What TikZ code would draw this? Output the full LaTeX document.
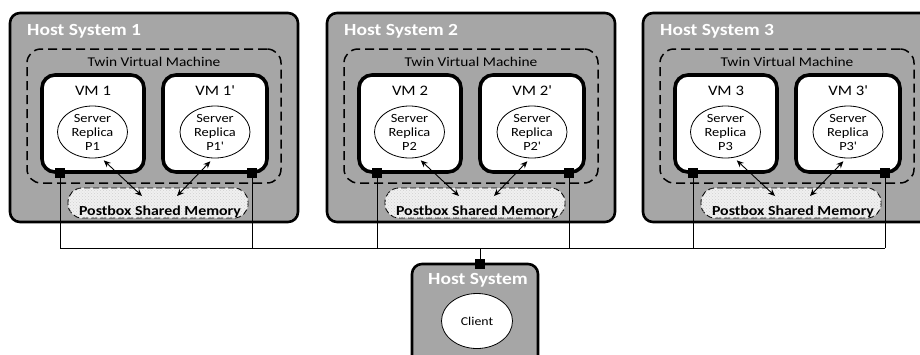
\documentclass[tikz,border=0pt]{standalone}
\usepackage{fontspec}
\setmainfont{Carlito}[FakeStretch=1.15]
\usetikzlibrary{arrows.meta,fit,patterns,shapes.geometric}

\definecolor{hostgray}{RGB}{166,166,166}

\begin{document}
\begin{tikzpicture}[x=1pt,y=-1pt,
  hostbox/.style={draw=black, line width=2.6pt, fill=hostgray, rounded corners=10pt, inner sep=0pt},
  twinbox/.style={draw=black, line width=1.5pt, dash pattern=on 9pt off 5pt, rounded corners=14pt, inner sep=0pt},
  vmbox/.style={draw=black, line width=3.6pt, fill=white, rounded corners=13pt, inner sep=0pt},
  pbox/.style={draw=black, line width=0.9pt, dash pattern=on 6pt off 3pt, rounded corners=14pt,
               fill=black!6, inner sep=0pt,
               postaction={pattern=crosshatch dots, pattern color=black!18}},
  replica/.style={ellipse, draw=black, line width=0.8pt, fill=white, minimum width=70pt,
                  minimum height=52pt, inner sep=0pt, align=center,
                  font=\fontsize{12.5}{14}\selectfont},
  client/.style={ellipse, draw=black, line width=0.8pt, fill=white, minimum width=71pt,
                 minimum height=55pt, inner sep=0pt, font=\fontsize{12}{14}\selectfont},
  port/.style={fill=black, minimum size=10pt, inner sep=0pt},
  hosttitle/.style={text=white, font=\fontsize{17}{20}\selectfont\bfseries, inner sep=0pt},
  twinlabel/.style={font=\fontsize{13.4}{16}\selectfont, inner sep=0pt},
  vmlabel/.style={font=\fontsize{14.5}{17}\selectfont, inner sep=0pt},
  pblabel/.style={font=\fontsize{13.8}{16}\selectfont\bfseries, inner sep=0pt},
  link/.style={draw=black, line width=0.9pt},
  biarrow/.style={line width=0.9pt, {Stealth[length=7pt,width=6pt]}-{Stealth[length=7pt,width=6pt]}},
]
\useasboundingbox (0,0) rectangle (920,354);
\clip (0,0) rectangle (920,354);

\coordinate (bus) at (0,248);

% three hosts, each running a twin virtual machine
\foreach \i/\ox in {1/0,2/317,3/633}{
  \begin{scope}[xshift=\ox pt]
    \node[hostbox, fit={(10,13) (298,222)}] (h\i) {};
    \node[hosttitle, anchor=base west] (ht\i) at (27,35) {Host System \i};
    \node[twinbox, fit={(27,49) (281,183)}] (tw\i) {};
    \node[twinlabel, anchor=base] (tl\i) at (154,66) {Twin Virtual Machine};
    \node[vmbox, fit={(42,75) (144,172)}] (va\i) {};
    \node[vmbox, fit={(163,75) (267,172)}] (vb\i) {};
    \node[vmlabel, anchor=base] (la\i) at (93,95) {VM \i};
    \node[vmlabel, anchor=base] (lb\i) at (215,95) {VM \i\textquotesingle};
    \node[replica] (ea\i) at (92.5,132) {Server\\Replica\\P\i};
    \node[replica] (eb\i) at (215,132) {Server\\Replica\\P\i\textquotesingle};
    \node[pbox, fit={(68,188) (248,218)}] (pb\i) {};
    \node[pblabel, anchor=base] (pt\i) at (160,215) {Postbox Shared Memory};
    \coordinate (pa\i) at (142,196);
    \coordinate (pc\i) at (177,196);
    \draw[biarrow, shorten <=4pt] (ea\i.-72) -- (pa\i);
    \draw[biarrow, shorten <=4pt] (eb\i.-94) -- (pc\i);
    \node[port] (sa\i) at (60,172.5) {};
    \node[port] (sb\i) at (252,172.5) {};
    \draw[link] (sa\i) -- (sa\i |- bus);
    \draw[link] (sb\i) -- (sb\i |- bus);
  \end{scope}
}

% shared network line
\draw[link] (sa1 |- bus) -- (sb3 |- bus);

% client host
\node[hostbox, fit={(412,264) (538,366)}] (hc) {};
\node[port] (pcl) at (480,264) {};
\draw[link] (pcl) -- (pcl |- bus);
\node[hosttitle, anchor=base] (htc) at (478,284) {Host System};
\node[client] (cl) at (477,321) {Client};
\end{tikzpicture}
\end{document}
